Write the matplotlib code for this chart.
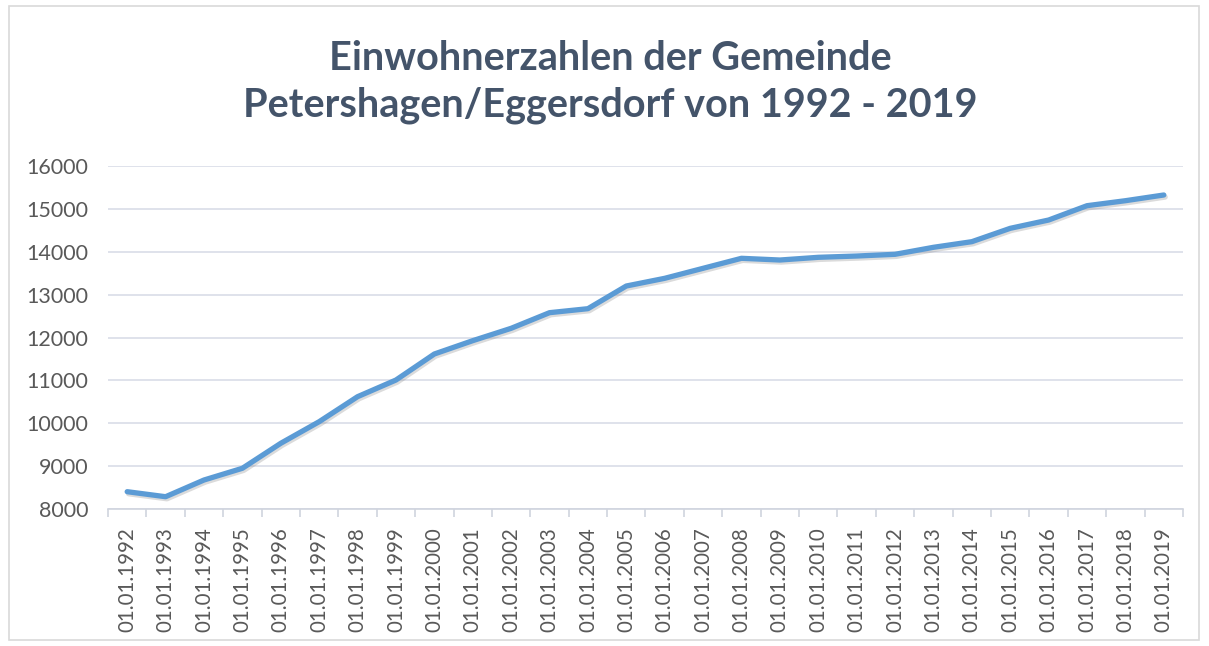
import matplotlib
matplotlib.use("Agg")
import matplotlib.pyplot as plt
import matplotlib.patheffects as pe
from matplotlib.patches import Rectangle
import numpy as np

years = list(range(1992, 2020))
labels = [f"01.01.{y}" for y in years]
einwohner = [8410, 8293, 8682, 8955, 9537, 10040, 10622, 11010, 11616, 11926,
             12214, 12578, 12671, 13199, 13378, 13611, 13844, 13804, 13867, 13897,
             13937, 14100, 14231, 14542, 14735, 15069, 15185, 15318]
title = "Einwohnerzahlen der Gemeinde\nPetershagen/Eggersdorf von 1992 - 2019"

plt.rcParams['font.family'] = ['Lato', 'DejaVu Sans']

fig = plt.figure(figsize=(12.09, 6.46), dpi=100)
fig.patch.set_facecolor('white')
fig.add_artist(Rectangle((9/1209, 6/646), 1190/1209, 634/646, transform=fig.transFigure,
                         fill=False, edgecolor='#D9D9D9', linewidth=1.2))

ax = fig.add_axes([108/1209, 1-509.3/646, (1183-108)/1209, (509.3-165.7)/646])
x = np.arange(len(years))
ax.plot(x, einwohner, color='#5B9BD5', linewidth=3.8, solid_capstyle='round',
        solid_joinstyle='round',
        path_effects=[pe.SimpleLineShadow(offset=(1, -1.5), shadow_color='#888888', alpha=0.3),
                      pe.Normal()])
ax.set_xlim(-0.5, len(years) - 0.5)
ax.set_ylim(8000, 16000)
ax.set_yticks(range(8000, 16001, 1000))
ax.grid(axis='y', color='#D9DDE8', linewidth=1.2)
ax.set_axisbelow(True)
for s in ['top', 'right', 'left']:
    ax.spines[s].set_visible(False)
ax.spines['bottom'].set_color('#D0D4DE')
ax.spines['bottom'].set_linewidth(1.2)

ax.set_xticks(x)
ax.set_xticklabels(labels, rotation=90, fontsize=14.8, color='#595959')
ax.tick_params(axis='x', length=0, pad=13)
ax.set_xticks(np.arange(-0.5, len(years), 1), minor=True)
ax.tick_params(axis='x', which='minor', length=6, color='#D0D4DE', width=1.2)
ax.tick_params(axis='y', length=0, labelsize=15.5, labelcolor='#595959', pad=14)

fig.text(0.505, 1-82/646, title, ha='center', va='center', fontsize=28.5,
         fontweight='bold', color='#44546A', linespacing=1.3)

fig.savefig('out.png', dpi=100)
